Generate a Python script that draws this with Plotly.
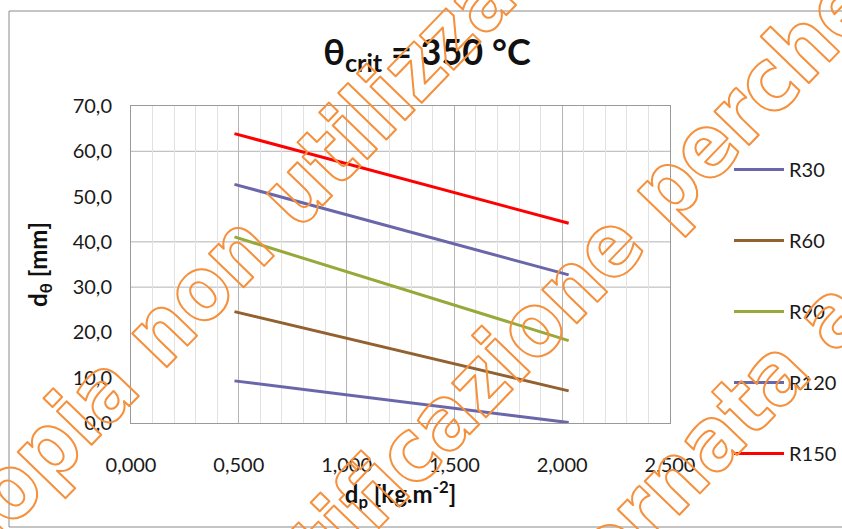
import plotly.graph_objects as go

# ---- data ----
series_names = ["R30", "R60", "R90", "R120", "R150"]
x_values = [0.48, 2.03]
r30 = [9.3, 0.1]
r60 = [24.6, 7.1]
r90 = [41.1, 18.2]
r120 = [52.7, 32.7]
r150 = [63.9, 44.1]
series_values = [r30, r60, r90, r120, r150]
series_colors = ["#6a66aa", "#93602f", "#98a83a", "#6a66aa", "#ff0000"]

x_tick_vals = [0.0, 0.5, 1.0, 1.5, 2.0, 2.5]
x_tick_text = ["0,000", "0,500", "1,000", "1,500", "2,000", "2,500"]
y_tick_vals = [0, 10, 20, 30, 40, 50, 60, 70]
y_tick_text = ["0,0", "10,0", "20,0", "30,0", "40,0", "50,0", "60,0", "70,0"]
h_grid_vals = [30, 40, 60]

watermark_lines = ["Copia non utilizzabile", "certificazione perché", "non aggiornata a"]

# ---- geometry (pixels) ----
W, H = 842, 529
L, R, T, B = 131, 172, 106, 106
PW, PH = W - L - R, H - T - B


def px(xp):
    return (xp - L) / PW


def py(yp):
    return (H - B - yp) / PH


FONT = "Lato, 'Open Sans', sans-serif"

fig = go.Figure()
for name, vals, col in zip(series_names, series_values, series_colors):
    fig.add_trace(go.Scatter(
        x=x_values, y=vals, mode="lines", name=name,
        line=dict(color=col, width=3), legendgroup=name,
    ))

for v in h_grid_vals:
    fig.add_shape(type="line", xref="x domain", yref="y", x0=0, x1=1, y0=v, y1=v,
                  line=dict(color="#b3b3b3", width=1), layer="below")

# outer chart border
fig.add_shape(type="rect", xref="paper", yref="paper",
              x0=px(9), x1=px(860), y0=py(527), y1=py(11),
              line=dict(color="#8a8a8a", width=1), layer="below")

wm_centers = [(280, 205), (533, 324), (583, 570)]
for txt, (cx, cy) in zip(watermark_lines, wm_centers):
    fig.add_annotation(text=txt, xref="paper", yref="paper", x=px(cx), y=py(cy),
                       xanchor="center", yanchor="middle", showarrow=False,
                       textangle=-46,
                       font=dict(family="'DejaVu Sans Condensed', 'DejaVu Sans'", size=88,
                                 color="#f5903c", weight="bold"))

fig.update_layout(
    width=W, height=H, autosize=False,
    margin=dict(l=L, r=R, t=T, b=B, pad=0),
    paper_bgcolor="white", plot_bgcolor="white",
    font=dict(family=FONT, size=20, color="#1a1a1a"),
    title=dict(text="<b>θ<sub>crit</sub> = 350 °C</b>", x=427 / W, xanchor="center",
               xref="container", y=1 - 52 / H, yanchor="middle", yref="container",
               font=dict(family=FONT, size=36, color="#111111")),
    showlegend=True,
    legend=dict(xref="container", yref="container", x=729 / W, y=1 - 150 / H,
                xanchor="left", yanchor="top",
                font=dict(family=FONT, size=20, color="#1a1a1a"),
                bgcolor="rgba(0,0,0,0)", borderwidth=0,
                tracegroupgap=42, traceorder="grouped", itemwidth=50,
                maxheight=700),
    xaxis=dict(range=[0, 2.5], tickvals=x_tick_vals, ticktext=x_tick_text,
               ticks="outside", ticklen=24, tickcolor="rgba(0,0,0,0)",
               showgrid=True, gridcolor="#b5b5b5", gridwidth=1,
               minor=dict(dtick=0.1, showgrid=True, gridcolor="#e2e2e2", ticks=""),
               showline=True, linecolor="#9a9a9a", linewidth=1, mirror=True,
               zeroline=False, automargin=False,
               tickfont=dict(family=FONT, size=20, color="#1a1a1a"),
               title=dict(text="<b>d<sub>p</sub> [kg.m<sup>-2</sup>]</b>", standoff=10,
                          font=dict(family=FONT, size=24, color="#111111"))),
    yaxis=dict(range=[0, 70], tickvals=y_tick_vals, ticktext=y_tick_text,
               ticks="outside", ticklen=14, tickcolor="rgba(0,0,0,0)",
               showgrid=False,
               showline=True, linecolor="#9a9a9a", linewidth=1, mirror=True,
               zeroline=False, automargin=False,
               tickfont=dict(family=FONT, size=20, color="#1a1a1a"),
               title=dict(text="<b>d<sub>θ</sub> [mm]</b>", standoff=18,
                          font=dict(family=FONT, size=24, color="#111111"))),
)

post = """
document.body.style.margin = '0';
function wmStyle(){
  document.querySelectorAll('.annotation-text').forEach(function(t){
    t.style.fill = 'none';
    t.style.stroke = '#f5903c';
    t.style.strokeWidth = '2px';
    t.style.strokeLinejoin = 'round';
  });
}
wmStyle(); setTimeout(wmStyle, 30); setTimeout(wmStyle, 200);
"""

fig.write_html("out.html", post_script=post, config={"displayModeBar": False})
